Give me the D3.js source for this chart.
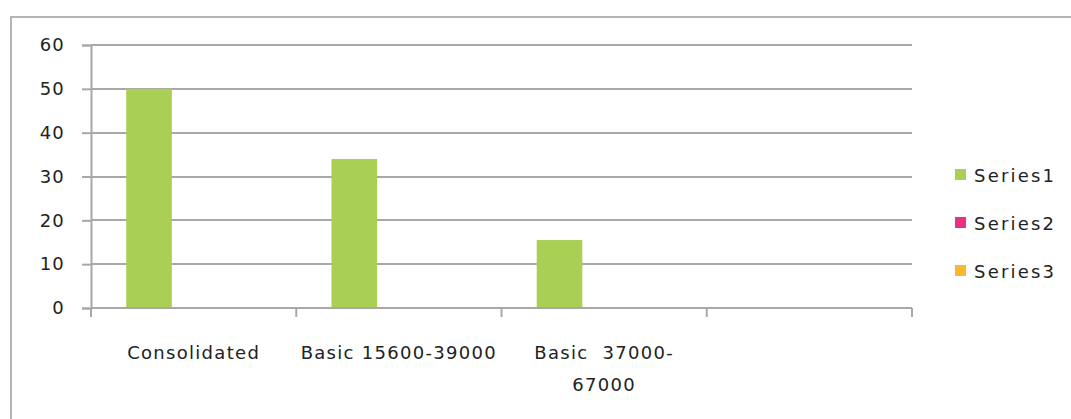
<!DOCTYPE html>
<html>
<head>
<meta charset="utf-8">
<script src="https://cdn.jsdelivr.net/npm/d3@7"></script>
<style>
  html, body { margin: 0; padding: 0; background: #fff; }
  svg { display: block; }
  text { font-family: "DejaVu Sans", sans-serif; fill: #222; white-space: pre; }
</style>
</head>
<body>
<svg id="chart" width="1071" height="419"></svg>
<script>
// Chart data (a "\n" in a category marks where its label wraps)
const categories = ["Consolidated", "Basic 15600-39000", "Basic  37000-\n67000", ""];
const seriesNames = ["Series1", "Series2", "Series3"];
const series1 = [50, 34, 15.5, null];
const series2 = [null, null, null, null];
const series3 = [null, null, null, null];
const yTicks = [0, 10, 20, 30, 40, 50, 60];
const colors = ["#a9cf55", "#e8317f", "#f9b82d"];

const seriesValues = [series1, series2, series3];

const svg = d3.select("#chart");
const plot = { left: 91, right: 912, top: 45, bottom: 308 };
const gridColor = "#a8a8a8";
const fontSize = "18px";

// Outer chart frame (runs past the right and bottom edges)
svg.append("rect")
  .attr("x", 11).attr("y", 17)
  .attr("width", 1100).attr("height", 450)
  .attr("fill", "none").attr("stroke", "#b4b4b4").attr("stroke-width", 2);

const x = d3.scaleBand().domain(d3.range(categories.length))
  .range([plot.left, plot.right]).paddingInner(0).paddingOuter(0);
const bw = x.bandwidth();
const gap = bw * 1.5 / 4.5;
const xs = d3.scaleBand().domain(seriesNames).range([gap / 2, bw - gap / 2]).padding(0);
const y = d3.scaleLinear().domain([0, 60]).range([plot.bottom, plot.top]);

// Horizontal gridlines
svg.append("g").selectAll("line").data(yTicks.filter(t => t > 0)).join("line")
  .attr("x1", plot.left).attr("x2", plot.right)
  .attr("y1", d => Math.round(y(d))).attr("y2", d => Math.round(y(d)))
  .attr("stroke", gridColor).attr("stroke-width", 2);

// Bars
seriesNames.forEach((name, si) => {
  svg.append("g").selectAll("rect")
    .data(seriesValues[si].map((v, i) => ({ v, i })).filter(d => d.v != null))
    .join("rect")
    .attr("x", d => x(d.i) + xs(name) + 1)
    .attr("width", xs.bandwidth())
    .attr("y", d => y(d.v))
    .attr("height", d => y(0) - y(d.v))
    .attr("fill", colors[si]);
});

// Y axis
const yAxis = svg.append("g").attr("transform", `translate(${plot.left},0)`)
  .call(d3.axisLeft(y).tickValues(yTicks).tickSize(9).tickPadding(17).tickFormat(d3.format("d")));
yAxis.select(".domain").attr("stroke", gridColor).attr("stroke-width", 2);
yAxis.selectAll(".tick line").attr("stroke", gridColor).attr("stroke-width", 2);
yAxis.selectAll(".tick text")
  .style("font-family", "DejaVu Sans").style("font-size", fontSize)
  .style("letter-spacing", "1.2px").attr("fill", "#222");

// X axis with category boundary ticks
const xAxisG = svg.append("g");
xAxisG.append("line")
  .attr("x1", plot.left).attr("x2", plot.right)
  .attr("y1", y(0)).attr("y2", y(0))
  .attr("stroke", gridColor).attr("stroke-width", 2);
const bounds = d3.range(categories.length + 1).map(i => i < categories.length ? x(i) : plot.right);
xAxisG.selectAll("line.tk").data(bounds).join("line").attr("class", "tk")
  .attr("x1", d => d).attr("x2", d => d)
  .attr("y1", y(0)).attr("y2", y(0) + 9)
  .attr("stroke", gridColor).attr("stroke-width", 2);

// Category labels, one tspan per line
const labels = svg.append("g");
categories.forEach((c, i) => {
  if (!c) return;
  const t = labels.append("text")
    .attr("y", 359)
    .attr("text-anchor", "middle")
    .style("font-size", fontSize).style("letter-spacing", "1.3px");
  c.split("\n").forEach((line, li) => {
    t.append("tspan").attr("x", x(i) + bw / 2).attr("dy", li ? 32 : 0).text(line);
  });
});

// Legend
const legend = svg.append("g");
seriesNames.forEach((name, si) => {
  const cy = 175 + si * 48;
  legend.append("rect").attr("x", 955).attr("y", cy - 6).attr("width", 11).attr("height", 11)
    .attr("fill", colors[si]);
  legend.append("text").attr("x", 974).attr("y", cy + 7)
    .style("font-size", fontSize).style("letter-spacing", "2.2px").text(name);
});
</script>
</body>
</html>
